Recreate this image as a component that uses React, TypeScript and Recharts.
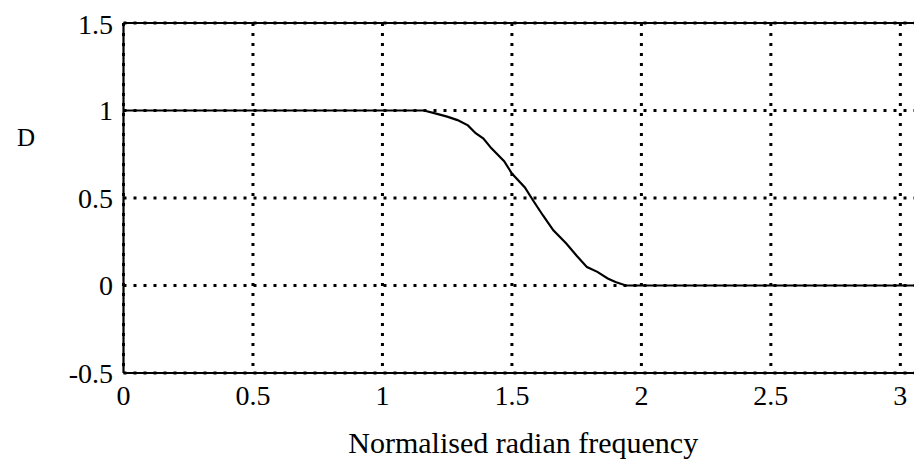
import React from "react";
import { LineChart, Line, XAxis, YAxis, CartesianGrid, ReferenceLine, Label } from "recharts";

const freq = [0, 1.16, 1.2, 1.25, 1.29, 1.33, 1.36, 1.39, 1.42, 1.47, 1.5, 1.55, 1.58, 1.62, 1.66, 1.71, 1.75, 1.79, 1.83, 1.87, 1.9, 1.94, 3.1416];
const dValues = [1, 1, 0.985, 0.965, 0.945, 0.915, 0.87, 0.84, 0.785, 0.71, 0.64, 0.56, 0.49, 0.4, 0.315, 0.24, 0.17, 0.105, 0.078, 0.04, 0.02, 0.0, 0];
const xTicks = [0, 0.5, 1, 1.5, 2, 2.5, 3];
const yTicks = [-0.5, 0, 0.5, 1, 1.5];

const data = freq.map((f, i) => ({ f, d: dValues[i] }));

const font = "'Liberation Serif', 'Times New Roman', serif";

export default function App() {
  return (
    <div style={{ width: 914, height: 452, overflow: "hidden" }}>
      <LineChart
        width={960}
        height={452}
        data={data}
        margin={{ top: 15, right: 31, left: 55.5, bottom: 37 }}
      >
        <CartesianGrid stroke="#000" strokeWidth={3} strokeDasharray="3 7" />
        <XAxis
          dataKey="f"
          type="number"
          domain={[0, Math.PI]}
          ticks={xTicks}
          allowDataOverflow
          height={50}
          tickLine={false}
          tickSize={6}
          tickMargin={6}
          axisLine={{ stroke: "#000", strokeWidth: 2.2 }}
          tick={{ fill: "#000", fontFamily: font, fontSize: 28 }}
        >
          <Label value="Normalised radian frequency" position="bottom" offset={9} dx={-7} fill="#000" fontFamily={font} fontSize={30} />
        </XAxis>
        <YAxis
          type="number"
          domain={[-0.5, 1.5]}
          ticks={yTicks}
          width={60}
          tickLine={false}
          tickSize={6}
          tickMargin={4.5}
          axisLine={{ stroke: "#000", strokeWidth: 2.2 }}
          tick={{ fill: "#000", fontFamily: font, fontSize: 28 }}
        >
          <Label value="D" position="left" offset={28.5} dy={-61} fill="#000" fontFamily={font} fontSize={25} />
        </YAxis>
        <ReferenceLine y={1.5} stroke="#000" strokeWidth={2.2} />
        <Line type="linear" dataKey="d" stroke="#000" strokeWidth={2.2} dot={false} isAnimationActive={false} />
      </LineChart>
    </div>
  );
}
